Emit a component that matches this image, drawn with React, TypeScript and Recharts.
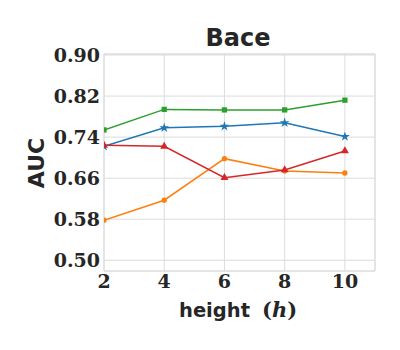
import React from 'react';
import { LineChart, Line, XAxis, YAxis, CartesianGrid, ReferenceArea, Symbols } from 'recharts';

// x positions (height h) and the AUC of each series
const heights = [2, 4, 6, 8, 10];
const blueAuc = [0.722, 0.758, 0.761, 0.768, 0.741];
const orangeAuc = [0.578, 0.617, 0.698, 0.674, 0.670];
const greenAuc = [0.754, 0.794, 0.793, 0.793, 0.812];
const redAuc = [0.724, 0.722, 0.661, 0.676, 0.713];
const yTicks = [0.5, 0.58, 0.66, 0.74, 0.82, 0.9];

const data = heights.map((h, i) => ({
  h,
  blue: blueAuc[i],
  orange: orangeAuc[i],
  green: greenAuc[i],
  red: redAuc[i],
}));

const makeDot = (type: any, color: string, size: number) => (props: any) => (
  <Symbols key={`${type}-${props.index}`} cx={props.cx} cy={props.cy} type={type} size={size} fill={color} stroke="none" />
);

const tickFont = { fontFamily: 'DejaVu Serif', fontWeight: 'bold', fontSize: 19, fill: '#262626' };

const App: React.FC = () => {
  return (
    <div style={{ position: 'absolute', left: 0, top: 0, width: 400, height: 350, background: '#fff' }}>
      <LineChart width={400} height={350} data={data} margin={{ top: 54, right: 25, left: 0, bottom: 0 }}>
        <CartesianGrid stroke="#dcdcdc" strokeWidth={1} />
        <ReferenceArea x1={2} x2={11} y1={0.479} y2={0.902} fill="none" stroke="#dcdcdc" strokeWidth={1} ifOverflow="extendDomain" />
        <XAxis
          dataKey="h"
          type="number"
          domain={[2, 11]}
          ticks={heights}
          allowDataOverflow
          axisLine={false}
          tickLine={false}
          tickSize={0}
          tickMargin={4}
          height={79}
          tick={tickFont}
        />
        <YAxis
          type="number"
          domain={[0.479, 0.902]}
          ticks={yTicks}
          allowDataOverflow
          axisLine={false}
          tickLine={false}
          tickSize={0}
          tickMargin={4}
          width={104}
          tickFormatter={(v: number) => v.toFixed(2)}
          tick={tickFont}
        />
        <Line dataKey="blue" stroke="#1f77b4" strokeWidth={1.5} isAnimationActive={false} dot={makeDot('star', '#1f77b4', 30)} />
        <Line dataKey="orange" stroke="#ff7f0e" strokeWidth={1.5} isAnimationActive={false} dot={makeDot('circle', '#ff7f0e', 22)} />
        <Line dataKey="green" stroke="#2ca02c" strokeWidth={1.5} isAnimationActive={false} dot={makeDot('square', '#2ca02c', 28)} />
        <Line dataKey="red" stroke="#d62728" strokeWidth={1.5} isAnimationActive={false} dot={makeDot('triangle', '#d62728', 28)} />
      </LineChart>
      <svg width={400} height={350} style={{ position: 'absolute', left: 0, top: 0, pointerEvents: 'none' }}>
        <text x={238} y={46} textAnchor="middle" fontFamily="DejaVu Sans" fontWeight="bold" fontSize={24} fill="#262626">Bace</text>
        <text x={44} y={163} textAnchor="middle" transform="rotate(-90 44 163)" fontFamily="DejaVu Sans" fontWeight="bold" fontSize={22} fill="#262626">AUC</text>
        <text x={179} y={317} fontFamily="DejaVu Sans" fontWeight="bold" fontSize={19.5} fill="#262626">height</text>
        <text x={262} y={317} fontFamily="DejaVu Serif" fontWeight="bold" fontSize={21} fill="#262626">
          (<tspan fontStyle="italic">h</tspan>)
        </text>
      </svg>
    </div>
  );
};

export default App;
